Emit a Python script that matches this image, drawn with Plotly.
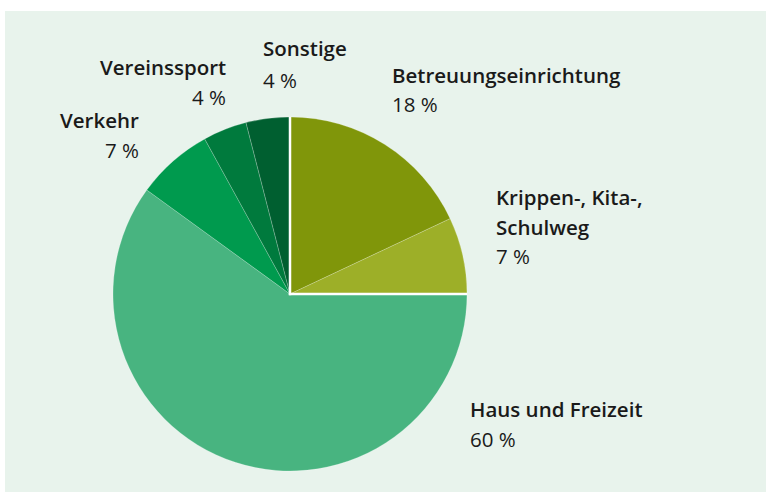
import plotly.graph_objects as go

# ---- data ----
categories = ["Betreuungseinrichtung", "Krippen-, Kita-, Schulweg", "Haus und Freizeit",
              "Verkehr", "Vereinssport", "Sonstige"]
values = [18, 7, 60, 7, 4, 4]
value_labels = ["18 %", "7 %", "60 %", "7 %", "4 %", "4 %"]
colors = ["#80960a", "#9daf28", "#48b480", "#009a4e", "#007a3d", "#005f30"]

W, H = 766, 492
BG = "#e8f3ec"
FONT = "Open Sans"
TXT = "#1a1a1a"
FS = 20.5

# pie placement (pixels)
cx, cy, r = 290, 294, 177
dom_x = [(cx - r) / W, (cx + r) / W]
dom_y = [(H - cy - r) / H, (H - cy + r) / H]

fig = go.Figure(go.Pie(
    labels=categories, values=values, sort=False, direction="clockwise", rotation=0,
    marker=dict(colors=colors, line=dict(color="rgba(255,255,255,0.35)", width=0.6)),
    textinfo="none", hoverinfo="label+percent", showlegend=False,
    domain=dict(x=dom_x, y=dom_y),
))

def px(x, y):
    return x / W, 1 - y / H

shapes = [dict(type="rect", xref="paper", yref="paper", x0=5 / W, x1=1, y0=0, y1=1 - 11 / H,
               fillcolor=BG, line=dict(width=0), layer="below")]
# white separator lines (quarter boundary) from pie centre
pcx, pcy = (dom_x[0] + dom_x[1]) / 2, (dom_y[0] + dom_y[1]) / 2
shapes.append(dict(type="line", xref="paper", yref="paper", x0=pcx, y0=pcy - 1.2 / H, x1=pcx,
                   y1=dom_y[1], line=dict(color="white", width=2.5), layer="above"))
shapes.append(dict(type="line", xref="paper", yref="paper", x0=pcx - 1.2 / W, y0=pcy, x1=dom_x[1],
                   y1=pcy, line=dict(color="white", width=2.5), layer="above"))

# label layout: (category index, anchor x, name-line y centres, value-line y, align)
label_layout = [
    (0, 390, [75], 104, "left"),
    (1, 494, [197, 227], 256, "left"),
    (2, 468, [409], 439, "left"),
    (3, 141, [120], 150, "right"),
    (4, 228, [67], 97, "right"),
    (5, 261, [48], 80, "left"),
]
name_lines = {1: ["Krippen-, Kita-,", "Schulweg"]}

annotations = []
for idx, ax, name_ys, vy, align in label_layout:
    lines = name_lines.get(idx, [categories[idx]])
    for line, ly in zip(lines, name_ys):
        x, y = px(ax, ly)
        annotations.append(dict(text=line, x=x, y=y, xref="paper", yref="paper",
                                xanchor=align, yanchor="middle", showarrow=False,
                                font=dict(family=FONT, size=FS, color=TXT, weight=600)))
    x, y = px(ax, vy)
    annotations.append(dict(text=value_labels[idx], x=x, y=y, xref="paper", yref="paper",
                            xanchor=align, yanchor="middle", showarrow=False,
                            font=dict(family=FONT, size=FS, color=TXT, weight=400)))

fig.update_layout(width=W, height=H, margin=dict(l=0, r=0, t=0, b=0),
                  paper_bgcolor="white", plot_bgcolor="white",
                  shapes=shapes, annotations=annotations)

fig.write_html("out.html")
